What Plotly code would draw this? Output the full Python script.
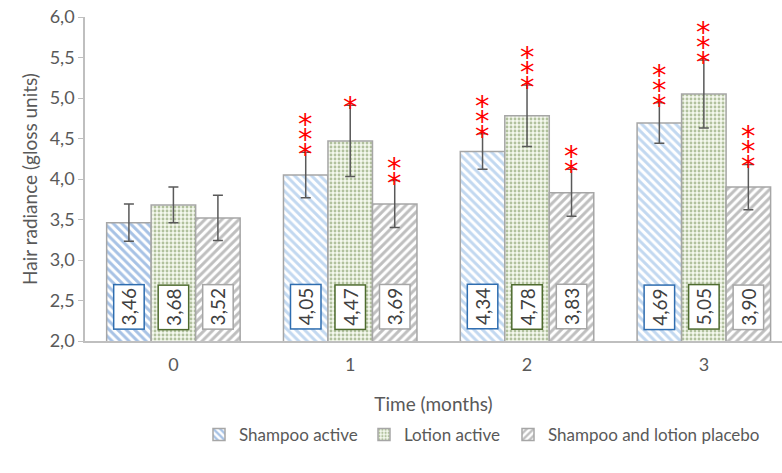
import plotly.graph_objects as go

months = [0, 1, 2, 3]
month_labels = ["0", "1", "2", "3"]
series_names = ["Shampoo active", "Lotion active", "Shampoo and lotion placebo"]
shampoo = [3.46, 4.05, 4.34, 4.69]
lotion = [3.68, 4.47, 4.78, 5.05]
placebo = [3.52, 3.69, 3.83, 3.90]
shampoo_err = [0.23, 0.28, 0.22, 0.25]
lotion_err = [0.22, 0.44, 0.38, 0.42]
placebo_err = [0.28, 0.29, 0.29, 0.28]
shampoo_stars = [0, 3, 3, 3]
lotion_stars = [0, 1, 3, 3]
placebo_stars = [0, 2, 2, 3]

values = [shampoo, lotion, placebo]
errors = [shampoo_err, lotion_err, placebo_err]
stars = [shampoo_stars, lotion_stars, placebo_stars]

FONT = "Lato"
TXT = "#595959"
bargap = 0.245
bw = (1 - bargap) / 3

patterns = [
    dict(shape="\\", fgcolor=["#4F86CC", "#86B2E2", "#86B2E2", "#86B2E2"], bgcolor="white", size=6, solidity=0.5, fillmode="overlay"),
    dict(shape=".", fgcolor="#6E8A4C", bgcolor="#F4F8EE", size=4, solidity=0.4, fillmode="overlay"),
    dict(shape="/", fgcolor="#7F7F7F", bgcolor="white", size=6, solidity=0.5, fillmode="overlay"),
]
label_border = ["#2E6DB0", "#4E6B2E", "#A6A6A6"]
legends = ["legend", "legend2", "legend3"]

fig = go.Figure()
for j in range(3):
    fig.add_trace(go.Bar(
        x=months, y=values[j], name=series_names[j], legend=legends[j],
        marker=dict(color="white", pattern=patterns[j], line=dict(color="#A6A6A6", width=1.5)),
        error_y=dict(type="data", array=errors[j], color="#595959", thickness=1.5, width=5),
    ))

annotations = []
for j in range(3):
    for i, m in enumerate(months):
        xc = m + (j - 1) * bw
        annotations.append(dict(
            x=xc, y=2.42, xref="x", yref="y", text=f"{values[j][i]:.2f}".replace(".", ","),
            textangle=-90, showarrow=False, font=dict(family=FONT, size=19, color="#404040"),
            bgcolor="white", bordercolor=label_border[j], borderwidth=1.5, borderpad=3,
            xanchor="center", yanchor="middle",
        ))
        top = values[j][i] + errors[j][i]
        for k in range(stars[j][i]):
            annotations.append(dict(
                x=xc, y=top, xref="x", yref="y", text="*", showarrow=False,
                font=dict(family="DejaVu Sans", size=29, color="#FF0000"),
                xanchor="center", yanchor="middle", yshift=-2 + 15 * k,
            ))

legend_common = dict(orientation="h", xanchor="left", y=-0.29, yanchor="middle",
                     font=dict(size=17, color=TXT), itemwidth=30, bgcolor="rgba(0,0,0,0)")

fig.update_layout(
    width=782, height=473,
    margin=dict(l=85, r=0, t=17, b=132),
    paper_bgcolor="white", plot_bgcolor="white",
    separators=", ",
    barmode="group", bargap=bargap, bargroupgap=0,
    font=dict(family=FONT, size=18, color=TXT),
    annotations=annotations,
    xaxis=dict(
        range=[-0.5, 3.442], tickvals=months, ticktext=month_labels, automargin=False,
        showline=True, linecolor="#BFBFBF", linewidth=1.5, ticks="", showgrid=False,
        zeroline=False, tickfont=dict(size=18, color=TXT), ticklabelstandoff=7,
        ticklabeloverflow="allow",
        title=dict(text="Time (months)", font=dict(size=19, color=TXT), standoff=23),
    ),
    yaxis=dict(
        range=[2, 6], dtick=0.5, tickformat=".1f", automargin=False,
        showline=True, linecolor="#BFBFBF", linewidth=1.5, ticks="outside", ticklen=5,
        tickcolor="#BFBFBF", showgrid=False, zeroline=False, ticklabeloverflow="allow",
        tickfont=dict(size=18, color=TXT),
        title=dict(text="Hair radiance (gloss units)", font=dict(size=19, color=TXT), standoff=7),
    ),
    legend=dict(x=(199 - 85) / 697, **legend_common),
    legend2=dict(x=(364 - 85) / 697, **legend_common),
    legend3=dict(x=(508 - 85) / 697, **legend_common),
    showlegend=True,
)

fig.write_html("out.html", config={"displayModeBar": False},
               post_script="document.body.style.margin='0';")
